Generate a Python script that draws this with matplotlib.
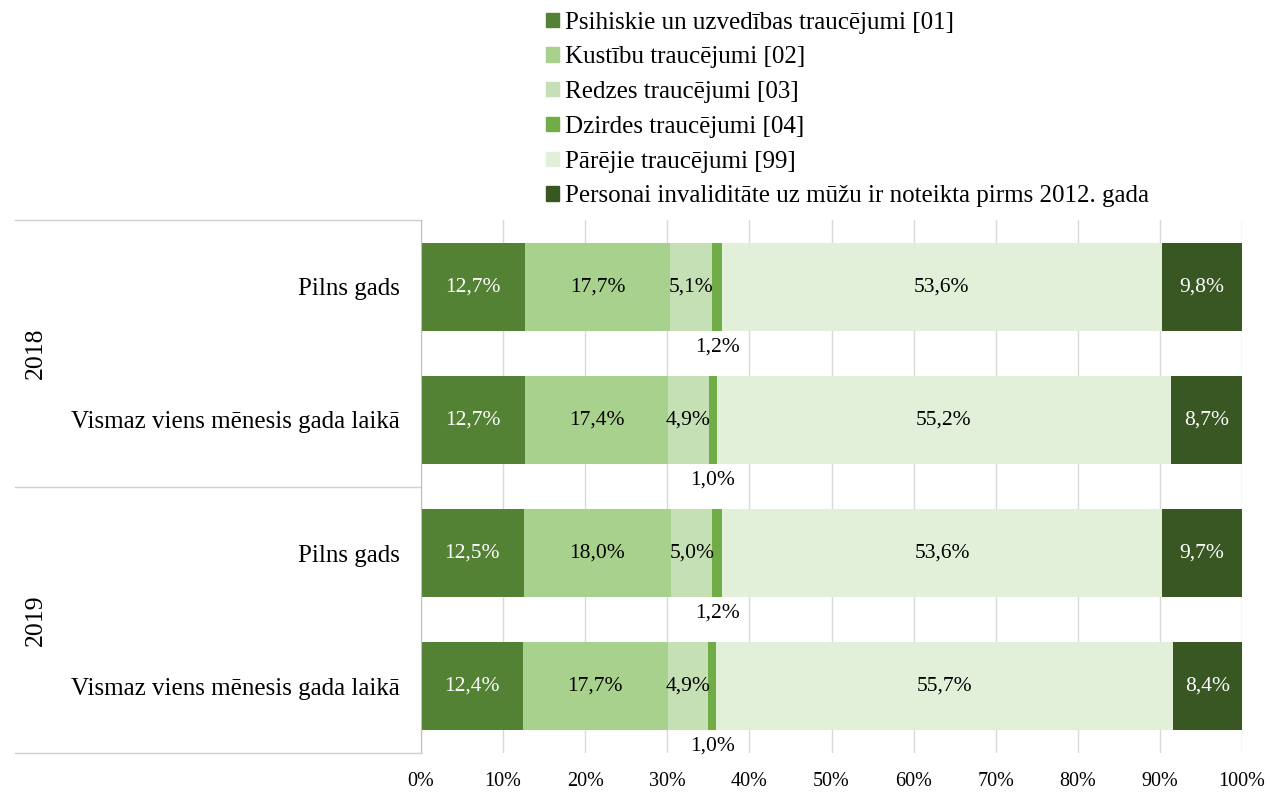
import matplotlib
matplotlib.use('Agg')
import matplotlib.pyplot as plt
import matplotlib.transforms as mtransforms
from matplotlib.patches import Patch
import numpy as np

plt.rcParams['font.family'] = ['Liberation Serif', 'DejaVu Serif']

years = ['2018', '2019']
periods = ['Pilns gads', 'Vismaz viens mēnesis gada laikā']
series_names = [
    'Psihiskie un uzvedības traucējumi [01]',
    'Kustību traucējumi [02]',
    'Redzes traucējumi [03]',
    'Dzirdes traucējumi [04]',
    'Pārējie traucējumi [99]',
    'Personai invaliditāte uz mūžu ir noteikta pirms 2012. gada',
]
# rows: 2018 Pilns, 2018 Vismaz, 2019 Pilns, 2019 Vismaz
s01 = [12.7, 12.7, 12.5, 12.4]
s02 = [17.7, 17.4, 18.0, 17.7]
s03 = [5.1, 4.9, 5.0, 4.9]
s04 = [1.2, 1.0, 1.2, 1.0]
s99 = [53.6, 55.2, 53.6, 55.7]
s_old = [9.8, 8.7, 9.7, 8.4]

colors = ['#548235', '#A9D18E', '#C5E0B4', '#70AD47', '#E2F0D9', '#385723']
label_colors = ['white', 'black', 'black', 'black', 'black', 'white']

data = np.array([s01, s02, s03, s04, s99, s_old])
shares = data / data.sum(axis=0) * 100

fig = plt.figure(figsize=(12.69, 7.94), dpi=100)
ax = fig.add_axes([421 / 1269, 1 - 753 / 794, 821 / 1269, 533 / 794])

y = np.arange(4)
left = np.zeros(4)
for i in range(len(series_names)):
    ax.barh(y, shares[i], left=left, height=0.66, color=colors[i],
            label=series_names[i], zorder=2)
    for j in range(4):
        txt = f'{data[i, j]:.1f}%'.replace('.', ',')
        cx = left[j] + shares[i, j] / 2
        if i == 3:
            ax.text(cx, y[j] + 0.45, txt, ha='center', va='center',
                    fontsize=15.5, color='black')
        else:
            ax.text(cx, y[j], txt, ha='center', va='center',
                    fontsize=15.5, color=label_colors[i])
    left += shares[i]

ax.set_xlim(0, 100)
ax.set_ylim(3.5, -0.5)
ax.set_xticks(np.arange(0, 101, 10))
ax.set_xticklabels([f'{v}%' for v in range(0, 101, 10)], fontsize=14.5)
ax.set_yticks(y)
ax.set_yticklabels(periods * 2, fontsize=18)
ax.tick_params(axis='both', length=0)
ax.tick_params(axis='y', pad=15)
ax.tick_params(axis='x', pad=14)
ax.grid(axis='x', color='#D9D9D9', linewidth=1, zorder=0)
for sp in ['top', 'right', 'bottom']:
    ax.spines[sp].set_visible(False)
ax.spines['left'].set_color('#BFBFBF')

# table lines and year labels on the left
trans = mtransforms.blended_transform_factory(fig.transFigure, ax.transData)
for yy in [-0.5, 1.5, 3.5]:
    ax.plot([15 / 1269, 421 / 1269], [yy, yy], transform=trans,
            color='#D0D0D0', linewidth=1, clip_on=False)
for k, yr in enumerate(years):
    ax.text(36 / 1269, 2 * k + 0.5, yr, transform=trans, rotation=90,
            ha='center', va='center', fontsize=18.5)

handles = [Patch(color=c) for c in colors]
fig.legend(handles, series_names, loc='upper left',
           bbox_to_anchor=(536 / 1269, 0.998), frameon=False, fontsize=18,
           handlelength=0.5, handleheight=0.5, handletextpad=0.25,
           labelspacing=0.51, borderaxespad=0)

fig.savefig('out.png', dpi=100)
